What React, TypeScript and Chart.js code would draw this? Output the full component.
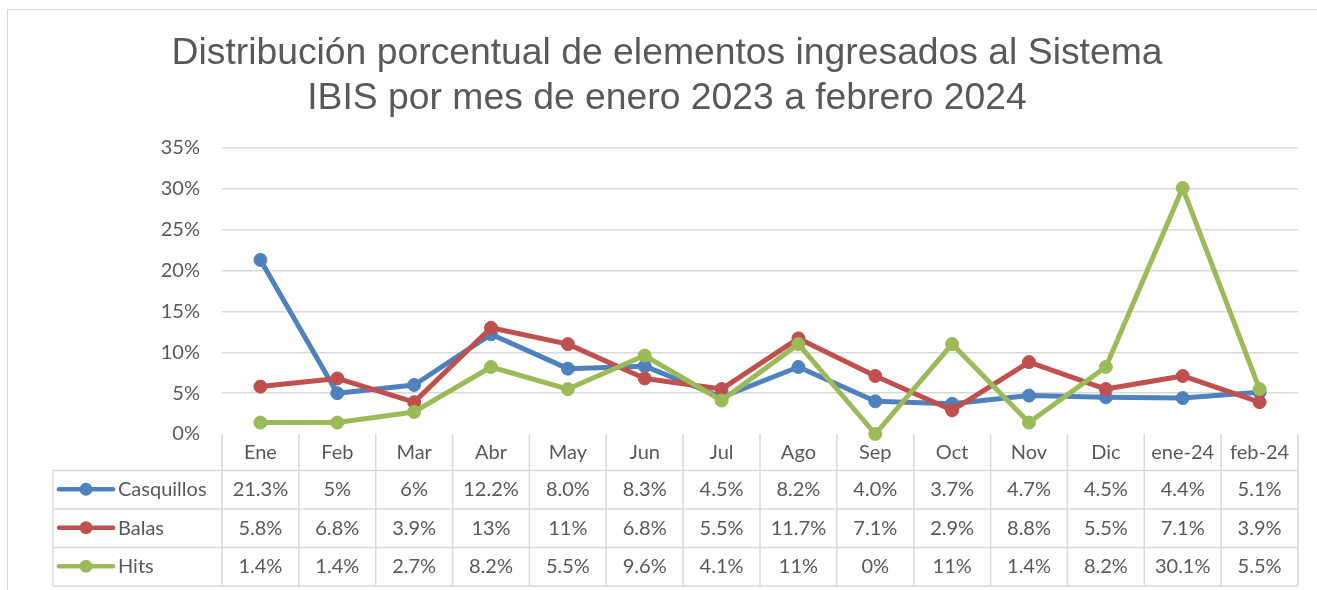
import { useEffect, useRef } from "react";
import { Chart, registerables } from "chart.js";

Chart.register(...registerables);

const categories = ["Ene", "Feb", "Mar", "Abr", "May", "Jun", "Jul", "Ago", "Sep", "Oct", "Nov", "Dic", "ene-24", "feb-24"];
const seriesNames = ["Casquillos", "Balas", "Hits"];
const casquillos = [21.3, 5, 6, 12.2, 8.0, 8.3, 4.5, 8.2, 4.0, 3.7, 4.7, 4.5, 4.4, 5.1];
const balas = [5.8, 6.8, 3.9, 13, 11, 6.8, 5.5, 11.7, 7.1, 2.9, 8.8, 5.5, 7.1, 3.9];
const hits = [1.4, 1.4, 2.7, 8.2, 5.5, 9.6, 4.1, 11, 0, 11, 1.4, 8.2, 30.1, 5.5];
const casquillosLabels = ["21.3%", "5%", "6%", "12.2%", "8.0%", "8.3%", "4.5%", "8.2%", "4.0%", "3.7%", "4.7%", "4.5%", "4.4%", "5.1%"];
const balasLabels = ["5.8%", "6.8%", "3.9%", "13%", "11%", "6.8%", "5.5%", "11.7%", "7.1%", "2.9%", "8.8%", "5.5%", "7.1%", "3.9%"];
const hitsLabels = ["1.4%", "1.4%", "2.7%", "8.2%", "5.5%", "9.6%", "4.1%", "11%", "0%", "11%", "1.4%", "8.2%", "30.1%", "5.5%"];
const titleLines = ["Distribución porcentual de elementos ingresados al Sistema", "IBIS por mes de enero 2023 a febrero 2024"];
const yMin = 0;
const yMax = 35;
const yStep = 5;

const COLORS = ["#4F81BD", "#C0504D", "#9BBB59"];
const TEXT = "#595959";
const GRID = "#d9d9d9";
const FONT = "Lato, 'Open Sans', sans-serif";

const decorPlugin = {
  id: "decor",
  beforeDraw(chart: any) {
    const ctx = chart.ctx as CanvasRenderingContext2D;
    ctx.save();
    ctx.fillStyle = "#ffffff";
    ctx.fillRect(0, 0, chart.width, chart.height);
    // outer chart border
    ctx.strokeStyle = GRID;
    ctx.lineWidth = 1;
    ctx.beginPath();
    ctx.moveTo(7.5, chart.height);
    ctx.lineTo(7.5, 9.5);
    ctx.lineTo(chart.width, 9.5);
    ctx.stroke();
    // title
    ctx.fillStyle = TEXT;
    ctx.font = "37.3px 'Liberation Sans', Arial, sans-serif";
    ctx.textAlign = "center";
    ctx.textBaseline = "alphabetic";
    ctx.fillText(titleLines[0], 667, 63.5);
    ctx.fillText(titleLines[1], 667, 108.5);
    ctx.restore();
  },
  beforeDatasetsDraw(chart: any) {
    const ctx = chart.ctx as CanvasRenderingContext2D;
    const { left, right, bottom } = chart.chartArea;
    const n = categories.length;
    const w = (right - left) / n;
    const headerTop = bottom;
    const headerH = 36.5;
    const rowH = 38.5;
    const tableLeft = 53;
    const rowsTop = headerTop + headerH;
    const tableBottom = rowsTop + rowH * 3;
    ctx.save();
    ctx.strokeStyle = GRID;
    ctx.lineWidth = 1.5;
    ctx.beginPath();
    for (let i = 0; i <= n; i++) {
      const x = left + i * w;
      ctx.moveTo(x, headerTop);
      ctx.lineTo(x, tableBottom);
    }
    ctx.moveTo(tableLeft, rowsTop);
    ctx.lineTo(tableLeft, tableBottom);
    for (let r = 0; r <= 3; r++) {
      const y = rowsTop + r * rowH;
      ctx.moveTo(tableLeft, y);
      ctx.lineTo(right, y);
    }
    ctx.stroke();

    ctx.fillStyle = TEXT;
    ctx.font = `20px ${FONT}`;
    ctx.textAlign = "center";
    ctx.textBaseline = "alphabetic";
    const xs = chart.scales.x;
    categories.forEach((c, i) => {
      ctx.fillText(c, xs.getPixelForValue(i), headerTop + 25);
    });
    const rows = [casquillosLabels, balasLabels, hitsLabels];
    rows.forEach((labels, r) => {
      const top = rowsTop + r * rowH;
      const base = top + 25.5;
      labels.forEach((t, i) => {
        ctx.fillText(t, xs.getPixelForValue(i), base);
      });
      // legend key
      const cy = top + rowH / 2 - 0.5;
      ctx.strokeStyle = COLORS[r];
      ctx.lineWidth = 4.5;
      ctx.lineCap = "round";
      ctx.beginPath();
      ctx.moveTo(59, cy);
      ctx.lineTo(113, cy);
      ctx.stroke();
      ctx.fillStyle = COLORS[r];
      ctx.beginPath();
      ctx.arc(86, cy, 6.5, 0, Math.PI * 2);
      ctx.fill();
      ctx.fillStyle = TEXT;
      ctx.textAlign = "left";
      ctx.fillText(seriesNames[r], 118, base);
      ctx.textAlign = "center";
    });
    ctx.restore();
  },
};

export default function App() {
  const ref = useRef<HTMLCanvasElement | null>(null);
  useEffect(() => {
    if (!ref.current) return;
    const series = [casquillos, balas, hits];
    const chart = new Chart(ref.current, {
      type: "line",
      data: {
        labels: categories,
        datasets: series.map((d, i) => ({
          label: seriesNames[i],
          data: d,
          borderColor: COLORS[i],
          backgroundColor: COLORS[i],
          pointBackgroundColor: COLORS[i],
          pointBorderColor: COLORS[i],
          borderWidth: 5,
          pointRadius: 6.5,
          pointBorderWidth: 1,
          borderJoinStyle: "round" as const,
          borderCapStyle: "round" as const,
          tension: 0,
          clip: false as any,
          order: 3 - i,
        })),
      },
      options: {
        responsive: false,
        animation: false,
        devicePixelRatio: 1,
        layout: { padding: { top: 148, right: 19, bottom: 156, left: 0 } },
        plugins: {
          legend: { display: false },
          tooltip: { enabled: false },
          title: { display: false },
        },
        scales: {
          x: { display: false, offset: true },
          y: {
            min: yMin,
            max: yMax,
            afterFit: (s: any) => {
              s.width = 222;
            },
            ticks: {
              stepSize: yStep,
              callback: (v: any) => `${v}%`,
              color: TEXT,
              font: { family: FONT, size: 20 },
              padding: 22,
            },
            grid: {
              color: (c: any) => (c.tick && c.tick.value === 0 ? "rgba(0,0,0,0)" : GRID),
              lineWidth: 1.5,
              drawTicks: false,
            },
            border: { display: false },
          },
        },
      },
      plugins: [decorPlugin],
    });
    return () => chart.destroy();
  }, []);
  return (
    <div style={{ position: "absolute", left: 0, top: 0, width: 1317, height: 590 }}>
      <canvas ref={ref} width={1317} height={590} />
    </div>
  );
}
